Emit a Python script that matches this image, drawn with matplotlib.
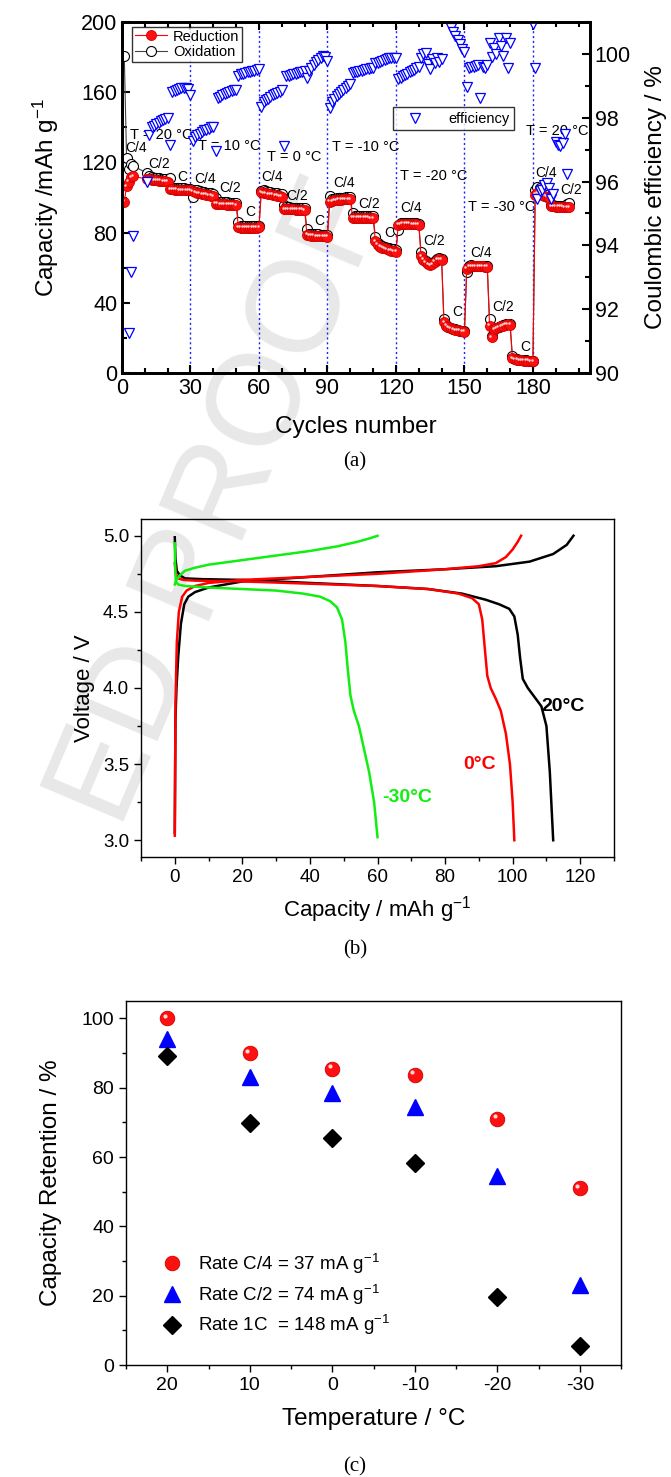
import matplotlib.pyplot as plt
from matplotlib import transforms
from matplotlib.ticker import MultipleLocator, FormatStrFormatter

plt.rcParams['font.family'] = ['Liberation Sans', 'DejaVu Sans']
plt.rcParams['mathtext.fontset'] = 'custom'
plt.rcParams['mathtext.rm'] = 'Liberation Sans'
plt.rcParams['mathtext.it'] = 'Liberation Sans'
plt.rcParams['axes.unicode_minus'] = False

# ---------------- (a) cycling at different temperatures ----------------
# cycle numbers of each block (C/4, C/2, C at each temperature)
cyc_20 = [1, 2, 3, 4, 5] + list(range(11, 31))
cyc_10 = list(range(31, 61))
cyc_0 = list(range(61, 91))
cyc_m10 = list(range(91, 121))
cyc_m20 = list(range(121, 151))
cyc_m30 = list(range(151, 181))
cyc_20b = list(range(181, 197))

red_20 = [97.5, 106.5, 109.0, 111.5, 112.0,
          110.5, 110.3, 110.2, 110.0, 109.8, 109.6, 109.5, 109.3, 109.2, 109.0,
          104.8, 104.6, 104.5, 104.4, 104.3, 104.2, 104.2, 104.1, 104.0, 104.0]
ox_20 = [180.5, 122.5, 116.0, 119.0, 118.0,
         113.8, 112.0, 111.6, 111.3, 111.1, 110.9, 110.7, 110.5, 110.3, 110.2,
         111.0, 105.6, 105.5, 105.4, 105.3, 105.2, 105.2, 105.1, 105.0, 105.0]
red_10 = [103.5, 103.0, 102.6, 102.3, 102.0, 101.8, 101.5, 101.3, 101.0, 100.8,
          96.5, 96.4, 96.3, 96.2, 96.1, 96.0, 96.0, 95.9, 95.8, 95.7,
          83.0, 82.9, 82.9, 82.8, 82.8, 82.8, 82.8, 82.9, 82.9, 83.0]
ox_10 = [100.3, 104.3, 104.0, 103.6, 103.3, 103.1, 102.8, 102.6, 102.3, 102.1,
         100.0, 97.6, 97.5, 97.4, 97.3, 97.2, 97.1, 97.0, 97.0, 96.9,
         86.2, 83.8, 83.8, 83.7, 83.7, 83.7, 83.7, 83.8, 83.8, 83.9]
red_0 = [103.0, 102.6, 102.3, 102.0, 101.8, 101.5, 101.3, 101.0, 100.8, 100.5,
         93.5, 93.4, 93.3, 93.2, 93.2, 93.1, 93.1, 93.0, 93.0, 92.9,
         78.8, 78.5, 78.3, 78.2, 78.1, 78.0, 78.0, 77.9, 77.8, 77.7]
ox_0 = [103.8, 104.0, 103.6, 103.3, 103.0, 102.8, 102.5, 102.3, 102.0, 101.8,
        96.0, 94.5, 94.4, 94.3, 94.3, 94.2, 94.1, 94.1, 94.0, 94.0,
        82.2, 79.4, 79.2, 79.1, 79.0, 79.0, 78.9, 78.8, 78.8, 78.7]
red_m10 = [97.5, 98.0, 98.3, 98.5, 98.7, 98.8, 98.9, 99.0, 99.1, 99.2,
           88.6, 88.6, 88.5, 88.5, 88.5, 88.4, 88.4, 88.4, 88.3, 88.3,
           75.0, 73.0, 72.0, 71.5, 71.0, 70.5, 70.0, 69.8, 69.5, 69.2]
ox_m10 = [100.8, 99.2, 99.4, 99.6, 99.8, 99.9, 100.0, 100.1, 100.2, 100.3,
          91.0, 89.6, 89.5, 89.5, 89.4, 89.4, 89.4, 89.3, 89.3, 89.3,
          77.7, 74.0, 73.0, 72.4, 71.9, 71.4, 71.0, 70.7, 70.4, 70.1]
red_m20 = [84.5, 84.8, 85.0, 85.0, 85.0, 85.0, 84.9, 84.8, 84.7, 84.5,
           66.5, 64.5, 63.0, 62.0, 61.5, 62.0, 63.5, 64.5, 65.0, 64.5,
           29.0, 27.0, 26.0, 25.5, 25.0, 24.5, 24.3, 24.0, 23.8, 23.6]
ox_m20 = [81.5, 85.6, 85.6, 85.5, 85.5, 85.4, 85.4, 85.3, 85.2, 85.0,
          69.0, 65.0, 63.6, 62.6, 62.1, 62.5, 64.0, 65.0, 65.4, 65.0,
          31.0, 27.4, 26.4, 25.8, 25.3, 24.8, 24.5, 24.2, 24.0, 23.8]
red_m30 = [59.5, 60.5, 61.0, 61.0, 61.0, 60.8, 60.8, 60.7, 60.5, 60.5,
           27.0, 20.5, 25.0, 25.5, 26.0, 26.5, 27.0, 27.5, 27.8, 27.5,
           8.5, 7.8, 7.5, 7.3, 7.2, 7.1, 7.0, 7.0, 6.9, 6.9]
ox_m30 = [57.7, 60.8, 61.3, 61.2, 61.2, 61.0, 61.0, 60.9, 60.7, 60.7,
          30.5, 21.0, 25.3, 25.8, 26.3, 26.8, 27.2, 27.7, 28.0, 27.7,
          9.8, 8.0, 7.7, 7.5, 7.4, 7.3, 7.2, 7.1, 7.0, 7.0]
red_20b = [101.5, 102.5, 102.0, 101.5, 101.0, 100.5, 100.0,
           95.0, 94.9, 94.8, 94.8, 94.7, 94.7, 94.6, 94.6, 94.5]
ox_20b = [104.5, 106.0, 105.5, 104.8, 104.0, 103.0, 102.0,
          96.0, 95.5, 95.3, 95.2, 95.1, 95.0, 95.0, 96.5, 97.0]

# coulombic efficiency (%)
eff_cyc = ([3, 4, 5, 11, 12] + list(range(13, 21)) + [21] + list(range(22, 31))
           + [31] + list(range(32, 41)) + [41] + list(range(42, 61))
           + [61] + list(range(62, 71)) + [71] + list(range(72, 91))
           + list(range(91, 121))
           + list(range(121, 141)) + list(range(144, 151))
           + list(range(151, 171)) + [180]
           + list(range(181, 196)))
eff = ([91.25, 93.15, 94.3, 96.0, 97.45,
        97.70, 97.75, 97.80, 97.85, 97.90, 97.93, 97.96, 98.00,
        97.15,
        98.80, 98.85, 98.88, 98.90, 98.92, 98.93, 98.93, 98.90, 98.70]
       + [97.26, 97.40, 97.45, 97.50, 97.55, 97.60, 97.63, 97.66, 97.70, 97.72,
          96.95, 98.62, 98.66, 98.70, 98.74, 98.78, 98.80, 98.83, 98.86, 98.88,
          99.30, 99.36, 99.38, 99.40, 99.42, 99.44, 99.46, 99.48, 99.50, 99.52]
       + [98.34, 98.50, 98.55, 98.60, 98.65, 98.70, 98.74, 98.78, 98.82, 98.86,
          97.10, 99.30, 99.32, 99.34, 99.36, 99.38, 99.40, 99.42, 99.43, 99.45,
          99.25, 99.45, 99.55, 99.65, 99.75, 99.82, 99.88, 99.92, 99.90, 99.78]
       + [98.31, 98.50, 98.60, 98.68, 98.75, 98.82, 98.88, 98.94, 99.00, 99.05,
          99.40, 99.42, 99.44, 99.46, 99.48, 99.50, 99.52, 99.54, 99.56, 99.57,
          99.70, 99.73, 99.76, 99.79, 99.82, 99.84, 99.86, 99.88, 99.88, 99.86]
       + [99.20, 99.25, 99.30, 99.34, 99.38, 99.42, 99.46, 99.50, 99.55, 99.60,
          99.88, 99.99, 100.04, 99.67, 99.52, 99.83, 99.73, 99.88, 99.75, 99.85,
          100.80, 100.70, 100.55, 100.45, 100.30, 100.15, 100.05]
       + [98.95, 99.55, 99.60, 99.58, 99.62, 99.65, 98.62, 99.60, 99.55, 99.65,
          100.35, 99.90, 100.20, 100.00, 100.50, 100.25, 99.95, 100.50, 99.55, 100.35,
          100.95]
       + [99.57, 95.45, 95.70, 95.75, 95.90, 95.95, 95.80, 95.45, 95.60,
          97.25, 97.15, 97.10, 97.20, 97.50, 96.25])

temp_lines = [30, 60, 90, 120, 150, 180]
# (text, cycle, capacity)
rate_labels = [('C/4', 1.5, 128), ('C/2', 11.5, 119), ('C', 24, 111.7),
               ('C/4', 31.8, 110.5), ('C/2', 42.6, 105.5), ('C', 54, 91.6),
               ('C/4', 61.2, 111.9), ('C/2', 72, 101.0), ('C', 84, 86.8),
               ('C/4', 92.5, 108.4), ('C/2', 103.4, 96.3), ('C', 115, 79.6),
               ('C/4', 121.8, 93.8), ('C/2', 132, 75.4), ('C', 144.5, 35),
               ('C/4', 152.5, 68.6), ('C/2', 162.4, 37.4), ('C', 174.6, 15),
               ('C/4', 181, 113.8), ('C/2', 192, 104.3)]
temp_labels = [('T = 20 °C', 3.5, 135.6), ('T = 10 °C', 33.4, 129.5),
               ('T = 0 °C', 63.4, 123.2), ('T = -10 °C', 92, 129),
               ('T = -20 °C', 121.8, 112.2), ('T = -30 °C', 151.5, 94.8),
               ('T = 20 °C', 177, 137.9)]

# ---------------- (b) voltage profiles ----------------
cap_20_ch = [0.0, 0.2, 0.5, 1.0, 1.8, 2.8, 4, 6, 10, 20, 40, 60, 80, 95, 105, 112, 116, 118]
v_20_ch = [3.05, 3.8, 4.0, 4.2, 4.42, 4.55, 4.6, 4.63, 4.66, 4.70, 4.73, 4.76, 4.78, 4.80, 4.83, 4.88, 4.94, 5.0]
cap_20_dis = [0, 0.2, 0.6, 1.5, 3, 8, 20, 40, 60, 75, 85, 92, 96, 99, 100.5, 101.5, 102.2, 103,
              104.5, 106.5, 108.5, 110, 111, 112]
v_20_dis = [4.99, 4.85, 4.77, 4.74, 4.72, 4.715, 4.71, 4.69, 4.67, 4.65, 4.62, 4.58, 4.55, 4.52,
            4.47, 4.35, 4.2, 4.06, 4.0, 3.94, 3.88, 3.75, 3.45, 3.0]
cap_0_ch = [0, 0.2, 0.6, 1.2, 2.2, 3.5, 6, 10, 20, 40, 60, 80, 90, 95, 98, 100, 101.5, 102.5]
v_0_ch = [3.03, 3.9, 4.3, 4.5, 4.6, 4.64, 4.67, 4.69, 4.71, 4.73, 4.75, 4.78, 4.80, 4.82, 4.86, 4.91, 4.96, 5.0]
cap_0_dis = [0, 0.3, 1, 2.5, 6, 20, 40, 60, 75, 84, 88, 90, 91, 91.8, 92.5, 93.5, 95, 96.5, 98, 99.2, 100, 100.5]
v_0_dis = [4.82, 4.75, 4.72, 4.71, 4.705, 4.70, 4.685, 4.67, 4.65, 4.62, 4.59, 4.55, 4.45, 4.25, 4.08,
           4.0, 3.93, 3.85, 3.7, 3.5, 3.25, 3.0]
cap_m30_ch = [0, 0.5, 1.5, 3, 6, 10, 20, 30, 40, 48, 54, 58, 60]
v_m30_ch = [4.68, 4.71, 4.74, 4.77, 4.79, 4.81, 4.84, 4.87, 4.90, 4.93, 4.96, 4.985, 5.0]
cap_m30_dis = [0, 0.1, 0.3, 1, 3, 10, 20, 30, 38, 43, 46, 48, 49.5, 50.5, 51.3, 52, 53, 54.5, 56, 57.5, 59, 60]
v_m30_dis = [4.95, 4.8, 4.7, 4.68, 4.67, 4.66, 4.65, 4.64, 4.62, 4.6, 4.57, 4.53, 4.45, 4.3, 4.1, 3.95,
             3.85, 3.75, 3.6, 3.45, 3.25, 3.02]

# ---------------- (c) capacity retention ----------------
temps = [20, 10, 0, -10, -20, -30]
ret_c4 = [100, 90, 85.5, 83.7, 71, 51]
ret_c2 = [94, 83, 78.5, 74.5, 54.5, 23]
ret_1c = [89, 69.8, 65.5, 58.2, 19.6, 5.4]

W, H = 671, 1477
fig = plt.figure(figsize=(W / 100, H / 100), dpi=100)


def rect(l, t, r, b):
    return [l / W, 1 - b / H, (r - l) / W, (b - t) / H]


# watermark of the proof copy
fig.text(355 / W, 1 - 190 / H, 'ED PROOF', fontsize=94, color='#e8e8e8',
         rotation=67, rotation_mode='anchor', ha='right', va='center', zorder=-5)

# ===== panel (a) =====
ax1 = fig.add_axes(rect(122, 22, 590, 373))
ax1.set_facecolor('none')
ax2 = ax1.twinx()

for xv in temp_lines:
    ax1.axvline(xv, color='#2020ff', ls=(0, (1.5, 2)), lw=1.0, zorder=1)

cyc_all = cyc_20 + cyc_10 + cyc_0 + cyc_m10 + cyc_m20 + cyc_m30 + cyc_20b
red_all = red_20 + red_10 + red_0 + red_m10 + red_m20 + red_m30 + red_20b
ox_all = ox_20 + ox_10 + ox_0 + ox_m10 + ox_m20 + ox_m30 + ox_20b

l_ox, = ax1.plot(cyc_all, ox_all, color='#444444', lw=0.8, marker='o', ms=7.2, mfc='white',
                 mec='black', mew=0.8, label='Oxidation', zorder=2)
l_red, = ax1.plot(cyc_all, red_all, color='red', lw=0.8, marker='o', ms=7.2, mfc='#ff1010',
                  mec='#d00000', mew=0.6, label='Reduction', zorder=3)
hl = transforms.offset_copy(ax1.transData, fig=fig, x=-1.0, y=1.0, units='points')
ax1.plot(cyc_all, red_all, ls='none', marker='o', ms=1.8, mfc='#ffd0d0', mec='none',
         transform=hl, zorder=4)

for txt, x, y in rate_labels:
    ax1.text(x, y, txt, fontsize=10, ha='left', va='center', zorder=6)
for txt, x, y in temp_labels:
    ax1.text(x, y, txt, fontsize=10.5, ha='left', va='center', zorder=6)

ax1.set_xlim(0, 205)
ax1.set_ylim(0, 200)
ax1.xaxis.set_major_locator(MultipleLocator(30))
ax1.xaxis.set_minor_locator(MultipleLocator(10))
ax1.yaxis.set_major_locator(MultipleLocator(40))
ax1.yaxis.set_minor_locator(MultipleLocator(20))
ax1.tick_params(which='both', direction='in', top=True, labelsize=15.5, width=1.5)
ax1.tick_params(which='major', length=6)
ax1.tick_params(which='minor', length=3.5)
ax1.set_xlabel('Cycles number', fontsize=17.5, labelpad=12)
ax1.set_ylabel('Capacity /mAh g$^{-1}$', fontsize=17.5, labelpad=14)
for sp in ax1.spines.values():
    sp.set_linewidth(2)

leg1 = ax1.legend(handles=[l_red, l_ox], loc='upper left', bbox_to_anchor=(0.015, 0.995),
                  fontsize=10.5, frameon=True, fancybox=False, edgecolor='black',
                  handlelength=2.2, borderpad=0.2, labelspacing=0.1, handletextpad=0.4,
                  borderaxespad=0.2)
leg1.get_frame().set_linewidth(1.0)

ax2.plot(eff_cyc, eff, ls='none', marker='v', ms=7.5, mfc='white', mec='blue',
         mew=0.9, label='efficiency')
ax2.set_ylim(90, 101)
ax2.yaxis.set_major_locator(MultipleLocator(2))
ax2.yaxis.set_minor_locator(MultipleLocator(1))
ax2.tick_params(which='both', direction='in', labelsize=15.5, width=1.5)
ax2.tick_params(which='major', length=6)
ax2.tick_params(which='minor', length=3.5)
ax2.set_ylabel('Coulombic efficiency / %', fontsize=17.5, labelpad=10)
for sp in ax2.spines.values():
    sp.set_linewidth(2)
leg2 = ax2.legend(loc='upper left', bbox_to_anchor=(0.578, 0.757), fontsize=10.5,
                  fancybox=False, edgecolor='black', handlelength=2.5, borderpad=0.3,
                  handletextpad=1.0, borderaxespad=0)
leg2.get_frame().set_linewidth(1.0)

fig.text(355 / W, 1 - 462 / H, '(a)', family=['Liberation Serif'], fontsize=15,
         ha='center', va='center')

# ===== panel (b) =====
axb = fig.add_axes(rect(141, 519, 614, 857))
axb.set_facecolor('none')
axb.plot(cap_20_ch, v_20_ch, color='black', lw=1.8)
axb.plot(cap_20_dis, v_20_dis, color='black', lw=1.8)
axb.plot(cap_0_ch, v_0_ch, color='#ff0000', lw=1.8)
axb.plot(cap_0_dis, v_0_dis, color='#ff0000', lw=1.8)
axb.plot(cap_m30_ch, v_m30_ch, color='#11ee11', lw=1.8)
axb.plot(cap_m30_dis, v_m30_dis, color='#11ee11', lw=1.8)
axb.text(108.5, 3.88, '20°C', color='black', fontsize=14, fontweight='bold', va='center')
axb.text(85.5, 3.5, '0°C', color='#ff0000', fontsize=14, fontweight='bold', va='center')
axb.text(61.5, 3.28, '-30°C', color='#11ee11', fontsize=14, fontweight='bold', va='center')
axb.set_xlim(-10, 130)
axb.set_ylim(2.89, 5.11)
axb.xaxis.set_major_locator(MultipleLocator(20))
axb.xaxis.set_minor_locator(MultipleLocator(10))
axb.yaxis.set_major_locator(MultipleLocator(0.5))
axb.yaxis.set_minor_locator(MultipleLocator(0.25))
axb.yaxis.set_major_formatter(FormatStrFormatter('%.1f'))
axb.tick_params(which='both', direction='out', labelsize=13.5, width=1.0)
axb.tick_params(which='major', length=5)
axb.tick_params(which='minor', length=3)
axb.set_xlabel('Capacity / mAh g$^{-1}$', fontsize=16, labelpad=6)
axb.set_ylabel('Voltage / V', fontsize=16, labelpad=6)
for sp in axb.spines.values():
    sp.set_linewidth(1.0)
fig.text(355 / W, 1 - 950 / H, '(b)', family=['Liberation Serif'], fontsize=15,
         ha='center', va='center')

# ===== panel (c) =====
axc = fig.add_axes(rect(126, 1001, 621, 1365))
axc.set_facecolor('none')
l_c4, = axc.plot(temps, ret_c4, ls='none', marker='o', ms=10.5, mfc='#ff1010', mec='#d00000',
                 mew=0.6, label='Rate C/4 = 37 mA g$^{-1}$')
hl_c = transforms.offset_copy(axc.transData, fig=fig, x=-1.8, y=1.8, units='points')
axc.plot(temps, ret_c4, ls='none', marker='o', ms=3.0, mfc='#ffd8d8', mec='none', transform=hl_c)
l_c2, = axc.plot(temps, ret_c2, ls='none', marker='^', ms=11, mfc='blue', mec='blue',
                 label='Rate C/2 = 74 mA g$^{-1}$')
l_1c, = axc.plot(temps, ret_1c, ls='none', marker='D', ms=9.5, mfc='black', mec='black',
                 label='Rate 1C  = 148 mA g$^{-1}$')
axc.set_xlim(25, -35)
axc.set_ylim(0, 105)
axc.set_xticks(temps)
axc.xaxis.set_minor_locator(MultipleLocator(5))
axc.yaxis.set_major_locator(MultipleLocator(20))
axc.yaxis.set_minor_locator(MultipleLocator(10))
axc.tick_params(which='both', direction='out', labelsize=14, width=1.0)
axc.tick_params(which='major', length=5)
axc.tick_params(which='minor', length=3)
axc.set_xlabel('Temperature / °C', fontsize=17.5, labelpad=10)
axc.set_ylabel('Capacity Retention / %', fontsize=17.5, labelpad=14)
for sp in axc.spines.values():
    sp.set_linewidth(1.0)
axc.legend(handles=[l_c4, l_c2, l_1c], loc='lower left', bbox_to_anchor=(0.02, 0.03),
           frameon=False, fontsize=13.5, handletextpad=0.4, labelspacing=0.35)
fig.text(355 / W, 1 - 1467 / H, '(c)', family=['Liberation Serif'], fontsize=15,
         ha='center', va='center')

fig.savefig('out.png', dpi=100)
